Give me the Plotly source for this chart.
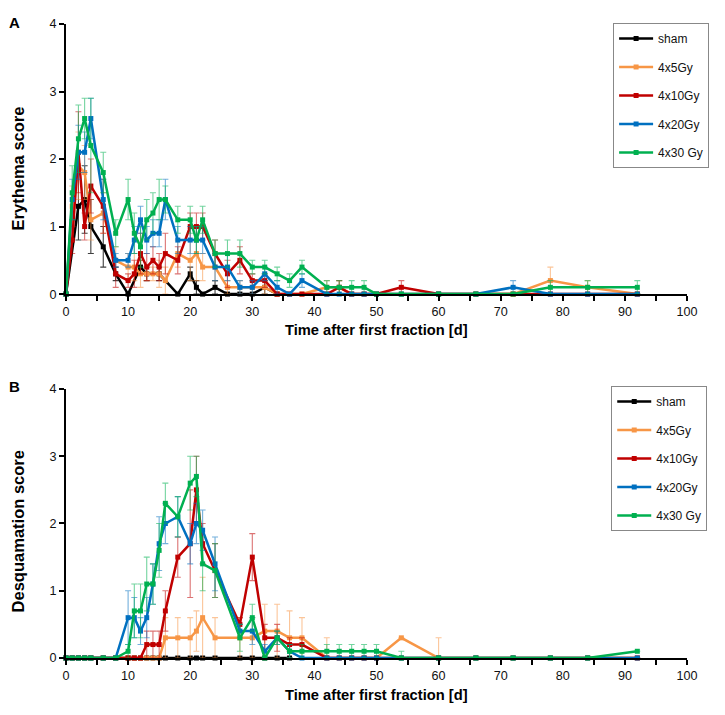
import plotly.graph_objects as go

# ---------------- Data ----------------
series_names = ["sham", "4x5Gy", "4x10Gy", "4x20Gy", "4x30 Gy"]
series_colors = ["#000000", "#F79646", "#C00000", "#0070C0", "#00B050"]
error_colors = ["rgba(0,0,0,0.75)", "rgba(247,150,70,0.55)", "rgba(192,0,0,0.55)",
                "rgba(0,112,192,0.55)", "rgba(0,176,80,0.55)"]

# Panel A: Erythema
days_a = [0, 1, 2, 3, 4, 6, 8, 10, 11, 12, 13, 14, 15, 16, 18, 20, 21, 22, 24, 26, 28, 30,
          32, 34, 36, 38, 42, 44, 46, 48, 50, 54, 60, 66, 72, 78, 84, 92]
sham_days_a = [0, 2, 3, 4, 6, 8, 10, 12, 13, 15, 18, 20, 21, 22, 24, 26, 28, 30, 32, 34]
sham_a = [0, 1.3, 1.4, 1.0, 0.7, 0.3, 0, 0.4, 0.3, 0.3, 0, 0.3, 0.1, 0, 0.1, 0, 0, 0, 0.1, 0]
sham_a_err = [0, 0.5, 0.5, 0.4, 0.3, 0.1, 0, 0.1, 0.1, 0.1, 0, 0.1, 0.1, 0, 0.1, 0, 0, 0, 0.1, 0]
gy5_a = [0, 1.3, 1.9, 1.8, 1.1, 1.2, 0.5, 0.4, 0.4, 0.3, 0.3, 0.3, 0.3, 0.2, 0.6, 0.5, 0.6, 0.4,
         0.4, 0.1, 0.1, 0.1, 0.1, 0, 0, 0, 0.1, 0.1, 0, 0, 0, 0, 0, 0, 0, 0.2, 0.1, 0]
gy5_a_err = [0, 0.3, 0.5, 0.4, 0.3, 0.3, 0.2, 0.2, 0.2, 0.2, 0.1, 0.1, 0.2, 0.2, 0.2, 0.3, 0.4,
             0.2, 0.2, 0.1, 0.1, 0.1, 0.1, 0, 0, 0, 0.1, 0.1, 0, 0, 0, 0, 0, 0, 0, 0.2, 0.1, 0]
gy10_a = [0, 0.8, 2.1, 1.0, 1.6, 1.3, 0.3, 0.2, 0.3, 0.6, 0.4, 0.5, 0.4, 0.6, 0.5, 1.0, 1.0, 1.0,
          0.6, 0.3, 0.5, 0.2, 0.2, 0, 0, 0, 0, 0.1, 0, 0, 0, 0.1, 0, 0, 0, 0, 0, 0]
gy10_a_err = [0, 0.2, 0.6, 0.2, 0.4, 0.4, 0.2, 0.1, 0.2, 0.3, 0.2, 0.2, 0.2, 0.3, 0.2, 0.2, 0.2,
              0.2, 0.2, 0.2, 0.2, 0.1, 0.1, 0, 0, 0, 0, 0.1, 0, 0, 0, 0.1, 0, 0, 0, 0, 0, 0]
gy20_a = [0, 1.4, 2.1, 2.1, 2.6, 1.4, 0.5, 0.5, 0.8, 1.1, 0.8, 0.9, 0.9, 1.4, 0.8, 0.8, 0.8, 0.8,
          0.4, 0.4, 0.1, 0.1, 0.3, 0.1, 0, 0.2, 0, 0, 0, 0, 0, 0, 0, 0, 0.1, 0, 0, 0]
gy20_a_err = [0, 0.3, 0.4, 0.3, 0.3, 0.3, 0.1, 0.1, 0.2, 0.2, 0.2, 0.2, 0.2, 0.3, 0.2, 0.2, 0.2,
              0.2, 0.2, 0.2, 0.1, 0.1, 0.1, 0.1, 0, 0.1, 0, 0, 0, 0, 0, 0, 0, 0, 0.1, 0, 0, 0]
gy30_a = [0, 1.5, 2.3, 2.6, 2.2, 1.8, 0.9, 1.4, 0.9, 0.7, 1.1, 1.2, 1.4, 1.4, 1.1, 1.1, 0.8, 1.1,
          0.6, 0.6, 0.6, 0.4, 0.4, 0.3, 0.2, 0.4, 0.1, 0.1, 0.1, 0.1, 0, 0, 0, 0, 0, 0.1, 0.1, 0.1]
gy30_a_err = [0, 0.4, 0.5, 0.3, 0.7, 0.3, 0.2, 0.3, 0.3, 0.3, 0.3, 0.3, 0.3, 0.2, 0.2, 0.2, 0.2,
              0.2, 0.2, 0.2, 0.2, 0.1, 0.1, 0.1, 0.1, 0.1, 0.1, 0.1, 0.1, 0.1, 0, 0, 0, 0, 0, 0.1,
              0.1, 0.1]

# Panel B: Desquamation
days_b = [0, 1, 2, 3, 4, 6, 8, 10, 11, 12, 13, 14, 15, 16, 18, 20, 21, 22, 24, 28, 30, 32, 34,
          36, 38, 42, 44, 46, 48, 50, 54, 60, 66, 72, 78, 84, 92]
sham_days_b = [0, 1, 2, 3, 4, 6, 8, 10, 11, 12, 13, 14, 15, 16, 18, 20, 21, 22, 24, 28, 30, 32,
               34, 36]
sham_b = [0] * 24
sham_b_err = [0] * 24
gy5_b = [0, 0, 0, 0, 0, 0, 0, 0, 0, 0, 0, 0, 0, 0.3, 0.3, 0.3, 0.4, 0.6, 0.3, 0.3, 0.3, 0.4, 0.4,
         0.3, 0.3, 0, 0, 0, 0, 0, 0.3, 0, 0, 0, 0, 0, 0]
gy5_b_err = [0, 0, 0, 0, 0, 0, 0, 0, 0, 0, 0, 0, 0, 0.3, 0.3, 0.3, 0.3, 0.6, 0.3, 0.3, 0.3, 0.4,
             0.4, 0.4, 0.3, 0.3, 0, 0, 0, 0, 0, 0.3, 0, 0, 0, 0, 0]
gy10_b = [0, 0, 0, 0, 0, 0, 0, 0, 0, 0, 0.2, 0.2, 0.2, 0.7, 1.5, 1.7, 2.5, 1.7, 1.3, 0.5, 1.5, 0.3,
          0.3, 0.2, 0.2, 0, 0, 0, 0, 0, 0, 0, 0, 0, 0, 0, 0]
gy10_b_err = [0, 0, 0, 0, 0, 0, 0, 0, 0, 0, 0.2, 0.2, 0.2, 0.3, 0.3, 0.8, 0.5, 0.3, 0.4, 0.1, 0.35,
              0.2, 0.2, 0.1, 0.1, 0, 0, 0, 0, 0, 0, 0, 0, 0, 0, 0, 0]
gy20_b = [0, 0, 0, 0, 0, 0, 0, 0.6, 0.6, 0.4, 0.6, 1.1, 1.7, 2.0, 2.1, 1.7, 2.0, 1.9, 1.4, 0.4, 0.4,
          0.1, 0.3, 0.1, 0, 0, 0, 0, 0, 0, 0, 0, 0, 0, 0, 0, 0]
gy20_b_err = [0, 0, 0, 0, 0, 0, 0, 0.4, 0.3, 0.2, 0.3, 0.3, 0.4, 0.3, 0.3, 0.3, 0.3, 0.3, 0.4, 0.1,
              0.2, 0.1, 0.1, 0.1, 0, 0, 0, 0, 0, 0, 0, 0, 0, 0, 0, 0, 0]
gy30_b = [0, 0, 0, 0, 0, 0, 0, 0.1, 0.7, 0.7, 1.1, 1.1, 1.6, 2.3, 2.1, 2.6, 2.7, 1.4, 1.3, 0.3, 0.6,
          0, 0.3, 0.1, 0.1, 0.1, 0.1, 0.1, 0.1, 0.1, 0, 0, 0, 0, 0, 0, 0.1]
gy30_b_err = [0, 0, 0, 0, 0, 0, 0, 0.1, 0.4, 0.4, 0.4, 0.3, 0.4, 0.3, 0.3, 0.4, 0.3, 0.4, 0.4, 0.2,
              0.2, 0, 0.1, 0.1, 0.1, 0.1, 0.1, 0.1, 0.1, 0.1, 0.1, 0, 0, 0, 0, 0, 0]

x_ticks = [0, 10, 20, 30, 40, 50, 60, 70, 80, 90, 100]
y_ticks = [0, 1, 2, 3, 4]

panel_a = [(sham_days_a, sham_a, sham_a_err), (days_a, gy5_a, gy5_a_err),
           (days_a, gy10_a, gy10_a_err), (days_a, gy20_a, gy20_a_err),
           (days_a, gy30_a, gy30_a_err)]
panel_b = [(sham_days_b, sham_b, sham_b_err), (days_b, gy5_b, gy5_b_err),
           (days_b, gy10_b, gy10_b_err), (days_b, gy20_b, gy20_b_err),
           (days_b, gy30_b, gy30_b_err)]

FONT = "Liberation Sans, Arial, sans-serif"
fig = go.Figure()

for panel, (xa, ya, leg) in ((panel_a, ("x", "y", "legend")), (panel_b, ("x2", "y2", "legend2"))):
    for i, (dx, vals, errs) in enumerate(panel):
        minus = [min(e, v) for e, v in zip(errs, vals)]
        fig.add_trace(go.Scatter(
            x=dx, y=vals, name=series_names[i], mode="lines+markers",
            xaxis=xa, yaxis=ya, legend=leg, legendgroup=f"{leg}{i}",
            line=dict(color=series_colors[i], width=2.5),
            marker=dict(symbol="square", size=5, color=series_colors[i]),
            error_y=dict(type="data", array=errs, arrayminus=minus, visible=True,
                         color=error_colors[i], thickness=1.1, width=3),
            cliponaxis=False,
        ))

axis_common = dict(showline=True, linecolor="black", linewidth=2, showgrid=False,
                   zeroline=False, ticks="outside", ticklen=5, tickwidth=1.5,
                   tickcolor="black", tickfont=dict(family=FONT, size=12.6, color="#111"))
minor_x = dict(dtick=5, ticks="outside", ticklen=5, tickwidth=1.5, tickcolor="black")

top_dom = [0.574, 1.0]
bot_dom = [0.0, 0.4243]

legend_common = dict(xanchor="left", yanchor="top", bgcolor="white", bordercolor="#888",
                     borderwidth=1, font=dict(family=FONT, size=12, color="#111"),
                     traceorder="grouped", tracegroupgap=9.5, itemwidth=34)

# page body has an 8px margin: the figure is sized/offset to compensate
fig.update_layout(
    width=717, height=707,
    margin=dict(l=58, r=38, t=9, b=57),
    plot_bgcolor="white", paper_bgcolor="white",
    font=dict(family=FONT, color="black"),
    xaxis=dict(domain=[0, 1], anchor="y", range=[0, 100], tickvals=x_ticks, minor=minor_x,
               **axis_common),
    yaxis=dict(domain=top_dom, anchor="x", range=[0, 4], tickvals=y_ticks, **axis_common),
    xaxis2=dict(domain=[0, 1], anchor="y2", range=[0, 100], tickvals=x_ticks, minor=minor_x,
                **axis_common),
    yaxis2=dict(domain=bot_dom, anchor="x2", range=[0, 4], tickvals=y_ticks, **axis_common),
    legend=dict(x=0.881, y=1.0016, **legend_common),
    legend2=dict(x=0.878, y=0.429, **legend_common),
    showlegend=True,
)

ann = [
    dict(text="<b>A</b>", x=-0.0837, y=1.0016, size=15),
    dict(text="<b>B</b>", x=-0.0837, y=0.429, size=15),
    dict(text="<b>Time after first fraction [d]</b>", x=0.5, y=1 - (326 - 17) / 641, size=14.7),
    dict(text="<b>Time after first fraction [d]</b>", x=0.5, y=1 - (695 - 17) / 641, size=14.7),
]
for a in ann:
    fig.add_annotation(text=a["text"], x=a["x"], y=a["y"], xref="paper", yref="paper",
                       xanchor="center", yanchor="middle", showarrow=False,
                       font=dict(family=FONT, size=a["size"], color="black"))
fig.add_annotation(text="<b>Erythema score</b>", x=-0.0773, y=1 - (163 - 17) / 641,
                   xref="paper", yref="paper", textangle=-90, showarrow=False,
                   xanchor="center", yanchor="middle",
                   font=dict(family=FONT, size=16.5, color="black"))
fig.add_annotation(text="<b>Desquamation score</b>", x=-0.0773, y=1 - (530 - 17) / 641,
                   xref="paper", yref="paper", textangle=-90, showarrow=False,
                   xanchor="center", yanchor="middle",
                   font=dict(family=FONT, size=16.5, color="black"))

fig.write_html("out.html")
